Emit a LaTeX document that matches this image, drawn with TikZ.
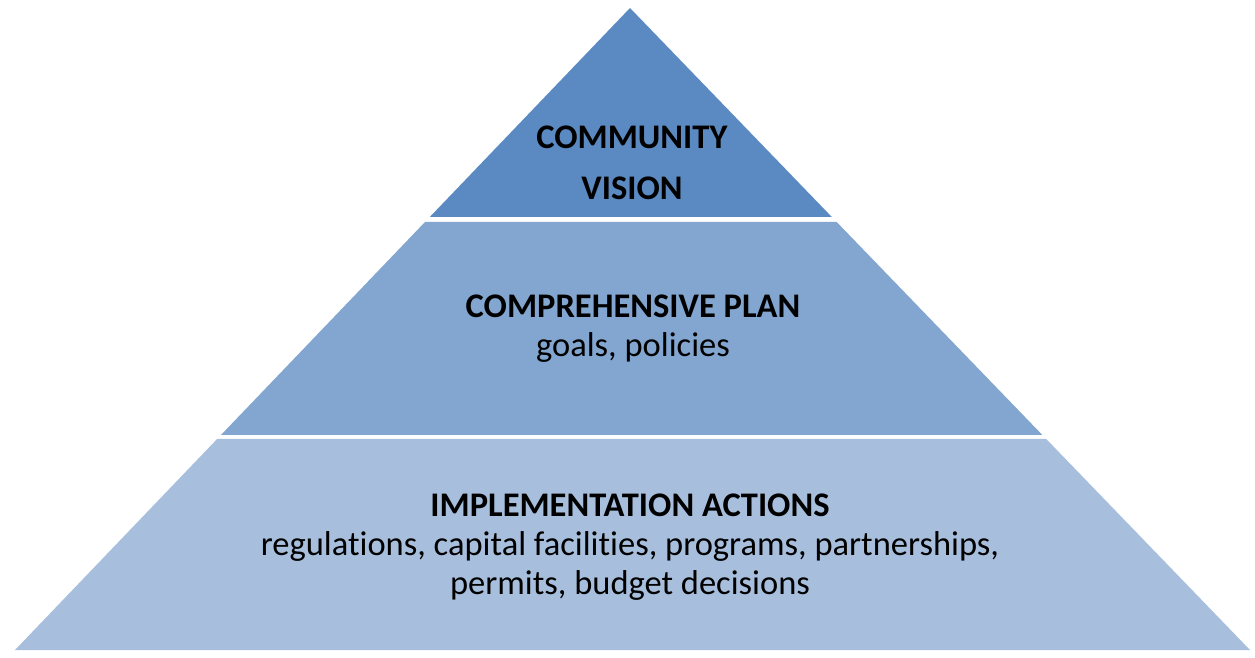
\documentclass[tikz,border=0pt]{standalone}
\usepackage{fontspec}
\setmainfont{Carlito}[Ligatures=NoCommon]
\usetikzlibrary{calc}

\definecolor{tiertop}{HTML}{5B8AC3}
\definecolor{tiermid}{HTML}{82A6CF}
\definecolor{tierlow}{HTML}{A7BFDD}

\begin{document}
\begin{tikzpicture}[
  x=1pt, y=-1pt,
  every node/.style = {align=center, text=black,
    font=\fontsize{34.5}{39}\selectfont},
  tier/.style = {draw=none}]
  \useasboundingbox[fill=white] (0,0) rectangle (1255,658);
  % corners of the pyramid
  \coordinate (apex) at (630,8);
  \coordinate (bl) at (15,650);
  \coordinate (br) at (1250,650);
  % top tier
  \fill[tiertop, tier] (apex)
    -- ($(apex)!{209/642}!(br)$) -- ($(apex)!{209/642}!(bl)$) -- cycle;
  % middle tier
  \fill[tiermid, tier] ($(apex)!{214/642}!(bl)$) -- ($(apex)!{214/642}!(br)$)
    -- ($(apex)!{427/642}!(br)$) -- ($(apex)!{427/642}!(bl)$) -- cycle;
  % bottom tier
  \fill[tierlow, tier] ($(apex)!{431/642}!(bl)$) -- ($(apex)!{431/642}!(br)$)
    -- (br) -- (bl) -- cycle;
  \node (vision) at (632,163) {\textbf{COMMUNITY}\\[12pt]\textbf{VISION}};
  \node (plan) at (633,329) {\textbf{COMPREHENSIVE PLAN}\\goals, policies};
  \node (actions) at (630,547) {\textbf{IMPLEMENTATION ACTIONS}\\
    regulations, capital facilities, programs, partnerships,\\
    permits, budget decisions};
\end{tikzpicture}
\end{document}
